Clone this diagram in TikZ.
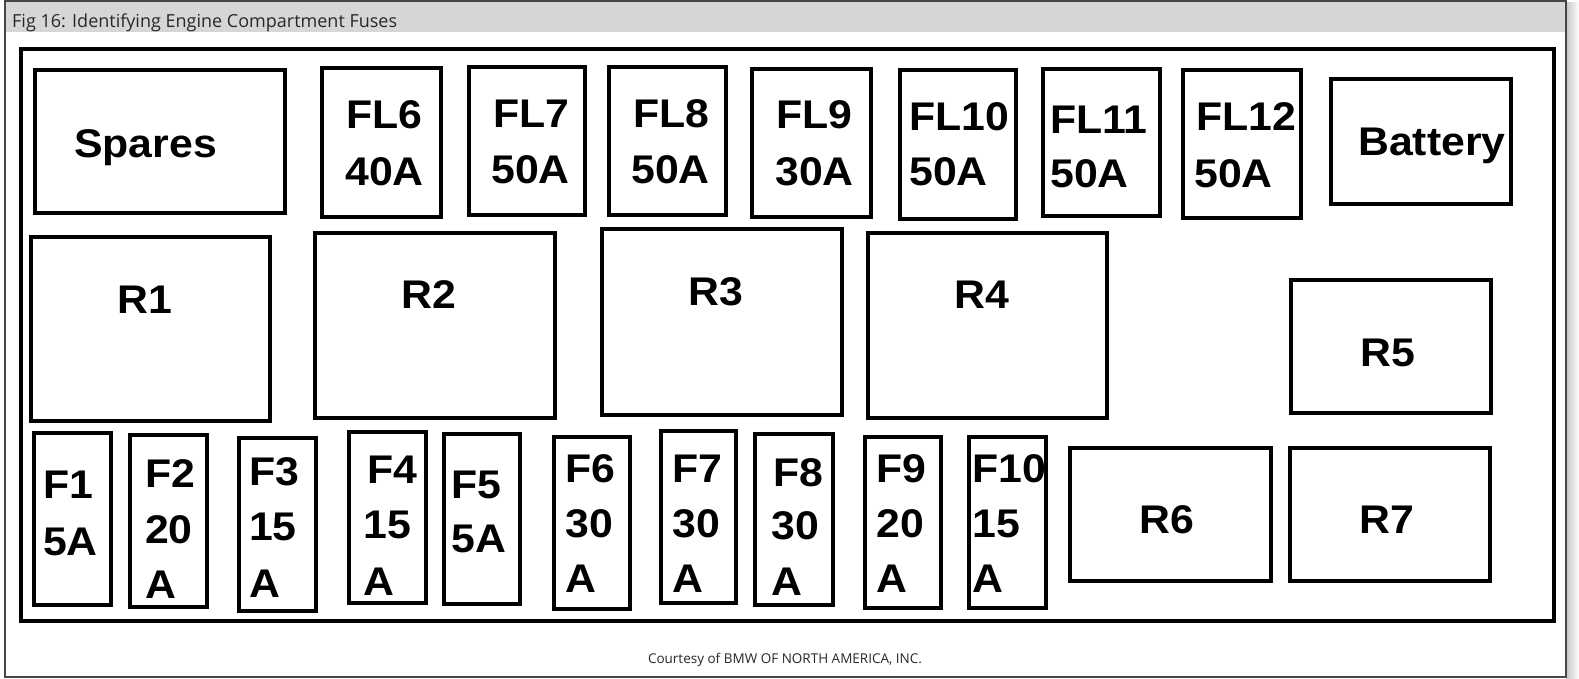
\documentclass[tikz,border=0pt]{standalone}
\usepackage{fontspec}
\newfontfamily\boxfont{Liberation Sans}
\newfontfamily\uifont{Open Sans}
\definecolor{hdr}{RGB}{214,214,214}
\definecolor{edge}{RGB}{70,70,70}
\definecolor{uitext}{RGB}{40,40,40}
\newcommand\fbx[5]{\node[box, minimum width={(#4-#2-4)*1pt}, minimum height={(#5-#3-4)*1pt}] (#1) at ({(#2+#4)/2},{(#3+#5)/2}) {};}
\newcommand\lb[4]{\node[lbl] (#1) at ({#2-2},#3) {\scalebox{1.07}[1]{#4}};}
\begin{document}
\begin{tikzpicture}[x=1pt,y=-1pt,
  box/.style={draw=black, line width=3.8pt, inner sep=0pt, outer sep=0pt, rectangle},
  lbl/.style={font=\boxfont\bfseries\fontsize{40}{40}\selectfont, anchor=base west, inner sep=0pt, text=black}]
\useasboundingbox (0,0) rectangle (1579,678);
\fill[white] (0,0) rectangle (1579,678);
\shade[left color=gray!45, right color=white] (1566,2) rectangle (1579,678);
\fill[hdr] (5,1) rectangle (1566,32);
\draw[edge, line width=1.2pt] (5,1) rectangle (1566,677);
\node[font=\uifont\fontsize{18}{18}\selectfont, text=uitext, anchor=base west, inner sep=0pt] (title) at (12,27) {Fig 16: Identifying Engine Compartment Fuses};
% panel frame
\node[draw=black, line width=4.8pt, inner sep=0pt, minimum width=1533pt, minimum height=572pt] (panel) at (787.5,335) {};
% top row
\fbx{spares}{33}{68}{287}{215}
\fbx{fl6}{320}{66}{443}{219}
\fbx{fl7}{467}{65}{587}{217}
\fbx{fl8}{607}{65}{728}{217}
\fbx{fl9}{750}{67}{873}{219}
\fbx{fl10}{898}{68}{1018}{221}
\fbx{fl11}{1041}{67}{1162}{218}
\fbx{fl12}{1181}{68}{1303}{220}
\fbx{battery}{1329}{77}{1513}{206}
% relays
\fbx{r1}{29}{235}{272}{423}
\fbx{r2}{313}{231}{557}{420}
\fbx{r3}{600}{227}{844}{417}
\fbx{r4}{866}{231}{1109}{420}
\fbx{r5}{1289}{278}{1493}{415}
% fuses bottom row
\fbx{f1}{32}{431}{113}{607}
\fbx{f2}{128}{433}{209}{609}
\fbx{f3}{237}{436}{318}{613}
\fbx{f4}{347}{430}{428}{605}
\fbx{f5}{442}{432}{522}{606}
\fbx{f6}{552}{435}{632}{611}
\fbx{f7}{659}{429}{738}{605}
\fbx{f8}{753}{432}{835}{607}
\fbx{f9}{863}{435}{943}{610}
\fbx{f10}{967}{435}{1048}{610}
\fbx{r6}{1068}{446}{1273}{583}
\fbx{r7}{1288}{446}{1492}{583}
% labels
\lb{spares-t}{76}{157}{Spares}
\lb{fl6-a}{348}{128}{FL6}\lb{fl6-b}{347}{185}{40A}
\lb{fl7-a}{495}{127}{FL7}\lb{fl7-b}{493}{183}{50A}
\lb{fl8-a}{635}{127}{FL8}\lb{fl8-b}{633}{183}{50A}
\lb{fl9-a}{778}{128}{FL9}\lb{fl9-b}{777}{185}{30A}
\lb{fl10-a}{911}{130}{FL10}\lb{fl10-b}{911}{185}{50A}
\lb{fl11-a}{1052}{133}{FL11}\lb{fl11-b}{1052}{187}{50A}
\lb{fl12-a}{1198}{130}{FL12}\lb{fl12-b}{1196}{187}{50A}
\lb{battery-t}{1360}{155}{Battery}
\lb{r1-t}{119}{313}{R1}
\lb{r2-t}{403}{308}{R2}
\lb{r3-t}{690}{305}{R3}
\lb{r4-t}{956}{308}{R4}
\lb{r5-t}{1362}{366}{R5}
\lb{r6-t}{1141}{533}{R6}
\lb{r7-t}{1361}{533}{R7}
\lb{f1-a}{45}{498}{F1}\lb{f1-b}{45}{555}{5A}
\lb{f2-a}{147}{487}{F2}\lb{f2-b}{147}{543}{20}\lb{f2-c}{147}{598}{A}
\lb{f3-a}{251}{485}{F3}\lb{f3-b}{251}{540}{15}\lb{f3-c}{251}{597}{A}
\lb{f4-a}{369}{483}{F4}\lb{f4-b}{365}{538}{15}\lb{f4-c}{365}{595}{A}
\lb{f5-a}{453}{498}{F5}\lb{f5-b}{453}{552}{5A}
\lb{f6-a}{567}{482}{F6}\lb{f6-b}{567}{537}{30}\lb{f6-c}{567}{592}{A}
\lb{f7-a}{674}{482}{F7}\lb{f7-b}{674}{537}{30}\lb{f7-c}{674}{592}{A}
\lb{f8-a}{775}{486}{F8}\lb{f8-b}{773}{539}{30}\lb{f8-c}{773}{595}{A}
\lb{f9-a}{878}{482}{F9}\lb{f9-b}{878}{537}{20}\lb{f9-c}{878}{592}{A}
\lb{f10-a}{974}{482}{F10}\lb{f10-b}{974}{537}{15}\lb{f10-c}{974}{592}{A}
% credit
\node[font=\uifont\fontsize{13.5}{13.5}\selectfont, text=uitext, anchor=base, inner sep=0pt] (credit) at (785,663) {Courtesy of BMW OF NORTH AMERICA, INC.};
\end{tikzpicture}
\end{document}
